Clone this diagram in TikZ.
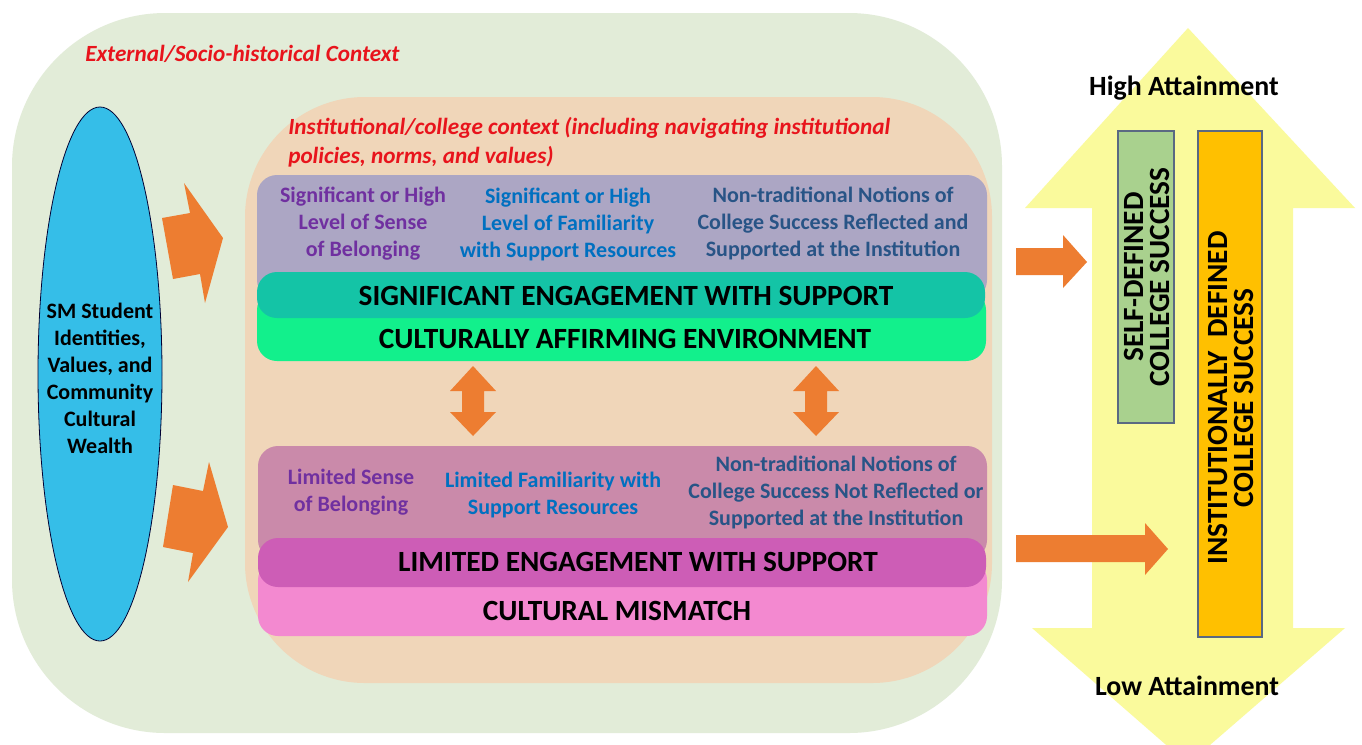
\documentclass[tikz,border=0pt]{standalone}
\usepackage{fontspec}
\setmainfont{Carlito}

\definecolor{outerctx}{RGB}{226,236,216}
\definecolor{innerctx}{RGB}{240,214,185}
\definecolor{toppanel}{RGB}{172,166,196}
\definecolor{sigeng}{RGB}{20,196,166}
\definecolor{affirm}{RGB}{18,240,140}
\definecolor{lowpanel}{RGB}{202,138,170}
\definecolor{limeng}{RGB}{205,93,182}
\definecolor{mismatch}{RGB}{243,137,208}
\definecolor{arrorange}{RGB}{237,125,49}
\definecolor{studentblue}{RGB}{53,190,232}
\definecolor{attain}{RGB}{250,250,156}
\definecolor{selfgreen}{RGB}{169,209,142}
\definecolor{instorange}{RGB}{255,192,0}
\definecolor{boxline}{RGB}{90,105,130}
\definecolor{ctxred}{RGB}{232,20,28}
\definecolor{belongpurple}{RGB}{112,48,160}
\definecolor{familblue}{RGB}{0,112,192}
\definecolor{notionblue}{RGB}{40,84,134}

\begin{document}
\begin{tikzpicture}[x=0.75pt,y=-0.75pt]

\tikzset{txt/.style = {align=center, inner sep=0pt, font=\bfseries\fontsize{16.5}{20.25}\selectfont}}
\tikzset{bartxt/.style = {inner sep=0pt, font=\bfseries\fontsize{22}{24}\selectfont}}
\tikzset{ctxtxt/.style = {align=left, inner sep=0pt, anchor=west, text=ctxred, font=\bfseries\itshape\fontsize{17.4}{21.75}\selectfont}}
\tikzset{sidetxt/.style = {align=center, inner sep=0pt, rotate=90, font=\bfseries\fontsize{22}{20}\selectfont}}
\tikzset{blockarrow/.style = {fill=arrorange}}

\useasboundingbox (0,0) rectangle (1362,744);
\fill[white] (0,0) rectangle (1362,744);

%contexts
\fill[outerctx, rounded corners=115] (12,13) rectangle (1002,733);
\fill[innerctx, rounded corners=90] (245,97) rectangle (992,683);
\node[ctxtxt] (ext) at (85,54) {External/Socio-historical Context};
\node[ctxtxt] (inst) at (288,142) {Institutional/college context (including navigating institutional\\policies, norms, and values)};

%student
\draw[fill=studentblue, draw=black!80!blue, line width=0.6pt] (100,374) ellipse (62 and 267);
\node[txt] (student) at (100,378) {SM Student\\Identities,\\Values, and\\Community\\Cultural\\Wealth};

%upper panel
\fill[toppanel, rounded corners=15] (257,175) rectangle (987,300);
\fill[affirm, rounded corners=15] (257,290) rectangle (986,361);
\fill[sigeng, rounded corners=15] (257,272) rectangle (985,318);
\node[txt, text=belongpurple] (hibelong) at (363,224) {Significant or High\\Level of Sense\\of Belonging};
\node[txt, text=familblue] (hifamil) at (568,224) {Significant or High\\Level of Familiarity\\with Support Resources};
\node[txt, text=notionblue] (hinotion) at (833,223) {Non-traditional Notions of\\College Success Reflected and\\Supported at the Institution};
\node[bartxt] (sigengage) at (626,296) {SIGNIFICANT ENGAGEMENT WITH SUPPORT};
\node[bartxt] (affirming) at (625,339) {CULTURALLY AFFIRMING ENVIRONMENT};

%lower panel
\fill[lowpanel, rounded corners=15] (258,446) rectangle (987,560);
\fill[mismatch, rounded corners=15] (258,560) rectangle (987,636);
\fill[limeng, rounded corners=15] (258,538) rectangle (986,587);
\node[txt, text=belongpurple] (lobelong) at (351,492) {Limited Sense\\of Belonging};
\node[txt, text=familblue] (lofamil) at (553,495) {Limited Familiarity with\\Support Resources};
\node[txt, text=notionblue] (lonotion) at (836,492) {Non-traditional Notions of\\College Success Not Reflected or\\Supported at the Institution};
\node[bartxt] (limengage) at (638,562) {LIMITED ENGAGEMENT WITH SUPPORT};
\node[bartxt] (culmis) at (617,611) {CULTURAL MISMATCH};

%arrows out of the student oval
\fill[blockarrow] (162,218) -- (190,213) -- (184,183) -- (223,238) -- (205,303) -- (200,274) -- (173,279) -- cycle;
\fill[blockarrow] (173,485) -- (203,491) -- (209,462) -- (228,527) -- (188,582) -- (193,553) -- (163,547) -- cycle;

%two way arrows between panels
\foreach \cx in {473,816}
  \fill[blockarrow] (\cx,366) -- (\cx+23,391) -- (\cx+11,391) -- (\cx+11,412) -- (\cx+23,412)
    -- (\cx,436) -- (\cx-23,412) -- (\cx-11,412) -- (\cx-11,391) -- (\cx-23,391) -- cycle;

%attainment scale
\fill[attain] (1188,28) -- (1355,208) -- (1293,208) -- (1293,628) -- (1345,628) -- (1188,764)
  -- (1032,628) -- (1092,628) -- (1092,208) -- (1025,208) -- cycle;
\node[bartxt, font=\bfseries\fontsize{20.9}{24}\selectfont] (high) at (1184,88) {High Attainment};
\node[bartxt, font=\bfseries\fontsize{20.9}{24}\selectfont] (low) at (1187,686) {Low Attainment};

\draw[fill=selfgreen, draw=boxline, line width=0.9pt] (1118,131) rectangle (1174,423);
\node[sidetxt] (selfdef) at (1147,277) {SELF-DEFINED\\COLLEGE SUCCESS};
\draw[fill=instorange, draw=boxline, line width=0.9pt] (1198,131) rectangle (1262,637);
\node[sidetxt] (instdef) at (1231,398) {INSTITUTIONALLY~~DEFINED\\COLLEGE SUCCESS};

%arrows into the scale
\fill[blockarrow] (1016,248) -- (1063,248) -- (1063,235) -- (1087,262) -- (1063,288) -- (1063,275) -- (1016,275) -- cycle;
\fill[blockarrow] (1016,535) -- (1145,535) -- (1145,523) -- (1168,549) -- (1145,575) -- (1145,562) -- (1016,562) -- cycle;

\end{tikzpicture}
\end{document}
